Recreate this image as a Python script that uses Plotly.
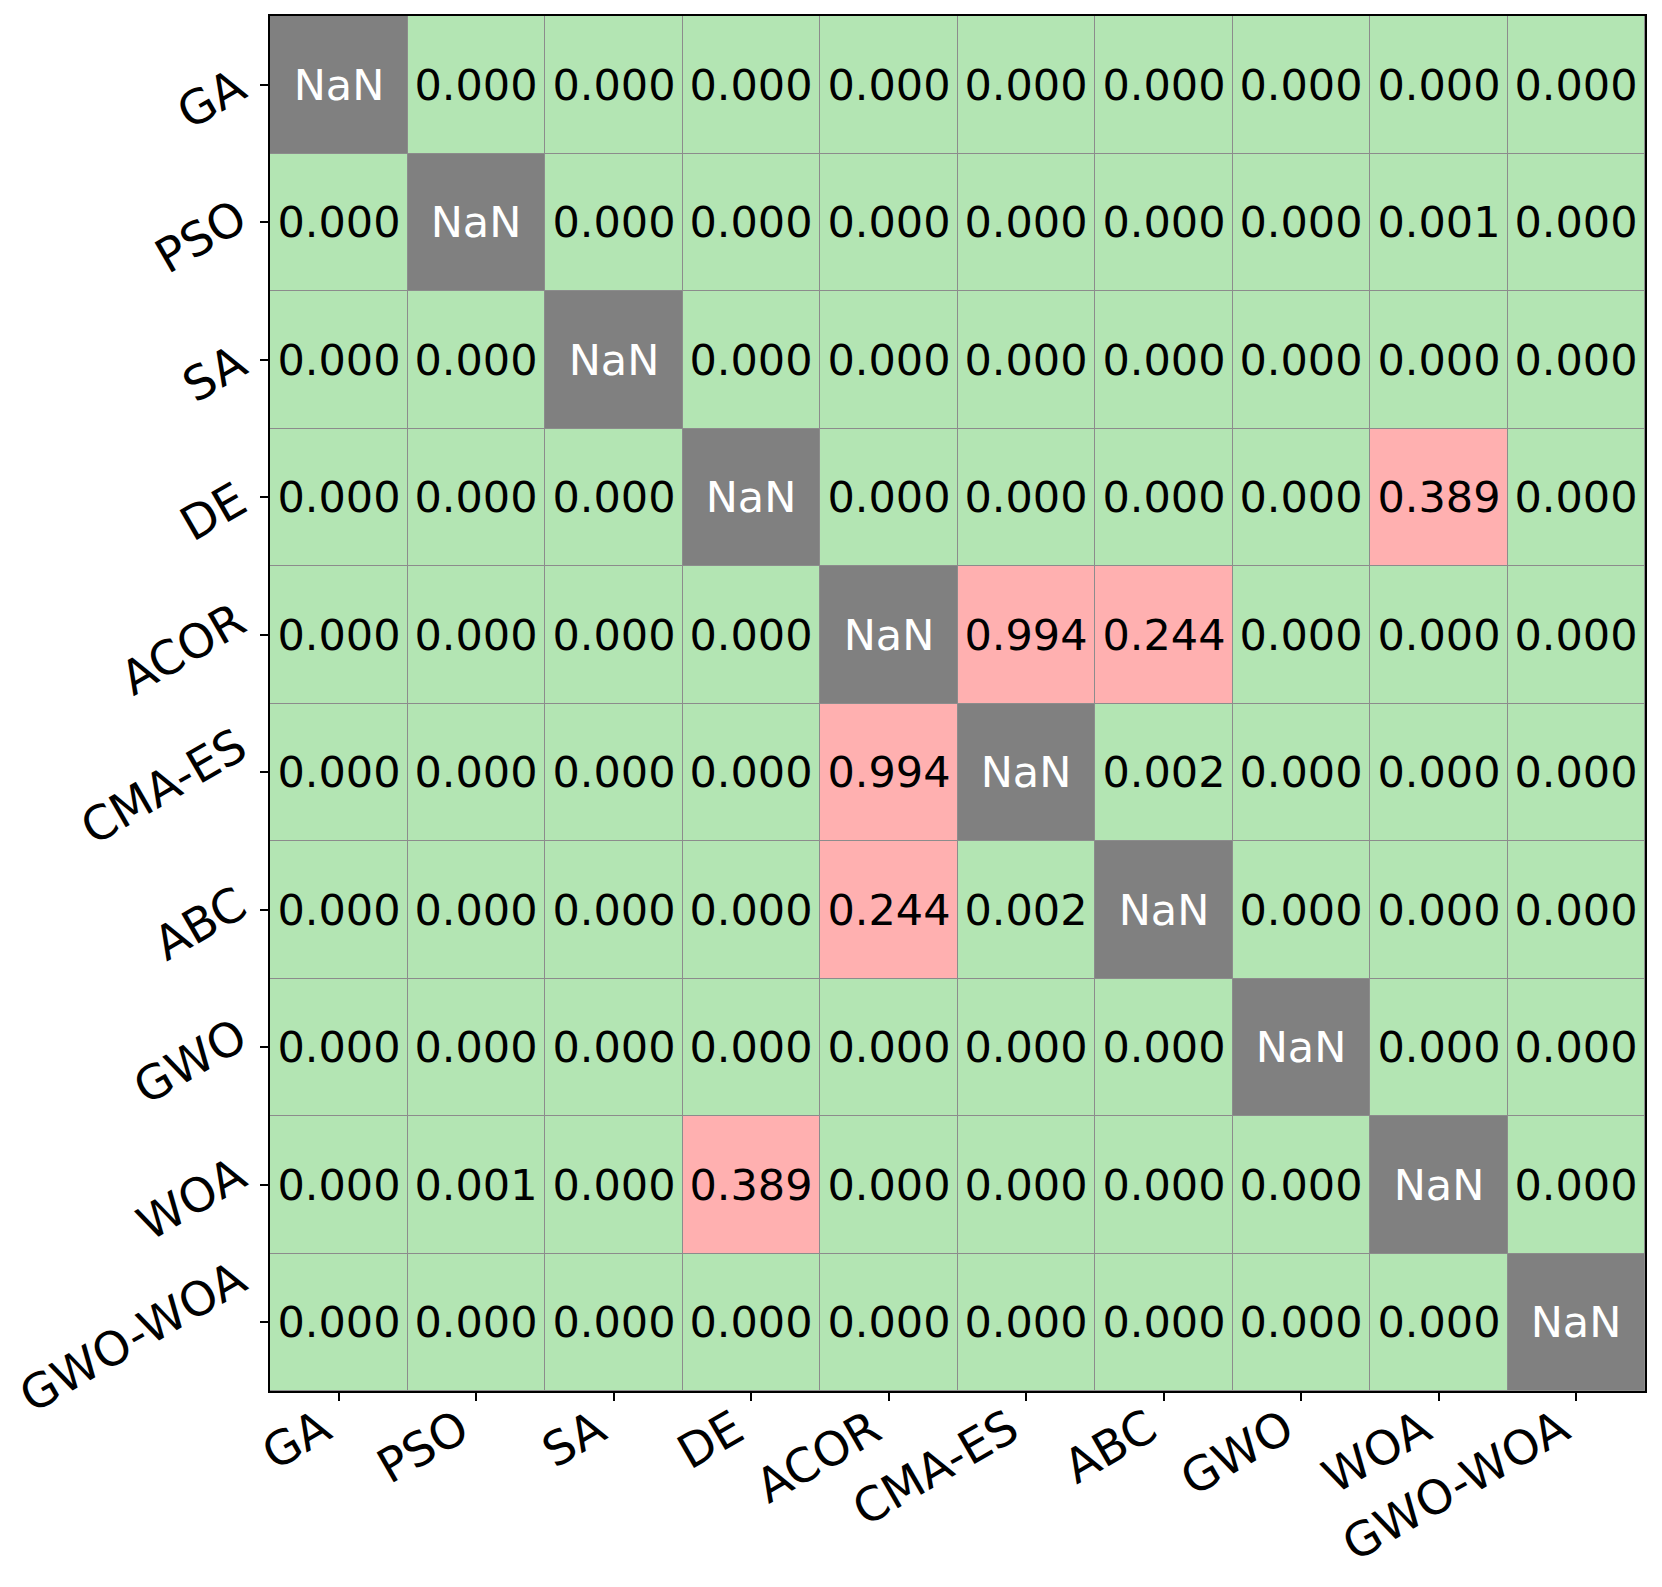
import numpy as np
import plotly.graph_objects as go

algorithms = ["GA", "PSO", "SA", "DE", "ACOR", "CMA-ES", "ABC", "GWO", "WOA", "GWO-WOA"]

# p-values (symmetric, diagonal NaN)
nan = float("nan")
p_values = [
    [nan,   0.000, 0.000, 0.000, 0.000, 0.000, 0.000, 0.000, 0.000, 0.000],
    [0.000, nan,   0.000, 0.000, 0.000, 0.000, 0.000, 0.000, 0.001, 0.000],
    [0.000, 0.000, nan,   0.000, 0.000, 0.000, 0.000, 0.000, 0.000, 0.000],
    [0.000, 0.000, 0.000, nan,   0.000, 0.000, 0.000, 0.000, 0.389, 0.000],
    [0.000, 0.000, 0.000, 0.000, nan,   0.994, 0.244, 0.000, 0.000, 0.000],
    [0.000, 0.000, 0.000, 0.000, 0.994, nan,   0.002, 0.000, 0.000, 0.000],
    [0.000, 0.000, 0.000, 0.000, 0.244, 0.002, nan,   0.000, 0.000, 0.000],
    [0.000, 0.000, 0.000, 0.000, 0.000, 0.000, 0.000, nan,   0.000, 0.000],
    [0.000, 0.001, 0.000, 0.389, 0.000, 0.000, 0.000, 0.000, nan,   0.000],
    [0.000, 0.000, 0.000, 0.000, 0.000, 0.000, 0.000, 0.000, 0.000, nan],
]
alpha = 0.05

P = np.array(p_values, dtype=float)
n = len(algorithms)
isnan = np.isnan(P)
code = np.where(isnan, np.nan, (P >= alpha).astype(float))
text_vals = [["" if np.isnan(v) else f"{v:.3f}" for v in row] for row in P]
diag_z = np.where(isnan, 1.0, np.nan)
diag_text = [["NaN" if np.isnan(v) else "" for v in row] for row in P]

GREEN = "#b3e5b3"
RED = "#ffb0b0"
GRAY = "#808080"
FONT = "DejaVu Sans"
CELL_SIZE = 43
TICK_SIZE = 47

fig = go.Figure()
fig.add_trace(go.Heatmap(
    z=code, x=algorithms, y=algorithms,
    zmin=0, zmax=1,
    colorscale=[[0, GREEN], [0.5, GREEN], [0.5, RED], [1, RED]],
    showscale=False, xgap=1, ygap=1,
    text=text_vals, texttemplate="%{text}",
    textfont=dict(family=FONT, size=CELL_SIZE, color="black"),
    hoverinfo="skip",
))
fig.add_trace(go.Heatmap(
    z=diag_z, x=algorithms, y=algorithms,
    zmin=0, zmax=1,
    colorscale=[[0, GRAY], [1, GRAY]],
    showscale=False, xgap=1, ygap=1,
    text=diag_text, texttemplate="%{text}",
    textfont=dict(family=FONT, size=CELL_SIZE, color="white"),
    hoverinfo="skip",
))

# rotated tick labels (matplotlib-style: rotated box right-aligned to the tick)
annotations = []
for name in algorithms:
    annotations.append(dict(
        text=name, x=name, xref="x", y=0, yref="paper",
        xanchor="right", yanchor="top", textangle=-30,
        showarrow=False, yshift=-5, xshift=4,
        font=dict(family=FONT, size=TICK_SIZE, color="black"),
    ))
    annotations.append(dict(
        text=name, x=0, xref="paper", y=name, yref="y",
        xanchor="right", yanchor="middle", textangle=-30,
        showarrow=False, xshift=-12, yshift=-14,
        font=dict(family=FONT, size=TICK_SIZE, color="black"),
    ))

axis_common = dict(
    showgrid=False, zeroline=False,
    showline=True, linecolor="black", linewidth=2, mirror=True,
    ticks="outside", ticklen=8, tickwidth=1.5, tickcolor="black",
    showticklabels=False, automargin=False,
)
fig.update_layout(
    width=1654, height=1579,
    margin=dict(l=262, r=17, t=8, b=196),
    paper_bgcolor="white",
    plot_bgcolor="#8c8c8c",
    xaxis=dict(**axis_common, range=[-0.5, n - 0.5], autorange=False),
    yaxis=dict(**axis_common, range=[n - 0.5, -0.5], autorange=False),
    font=dict(family=FONT),
    annotations=annotations,
)
fig.write_html("out.html")
